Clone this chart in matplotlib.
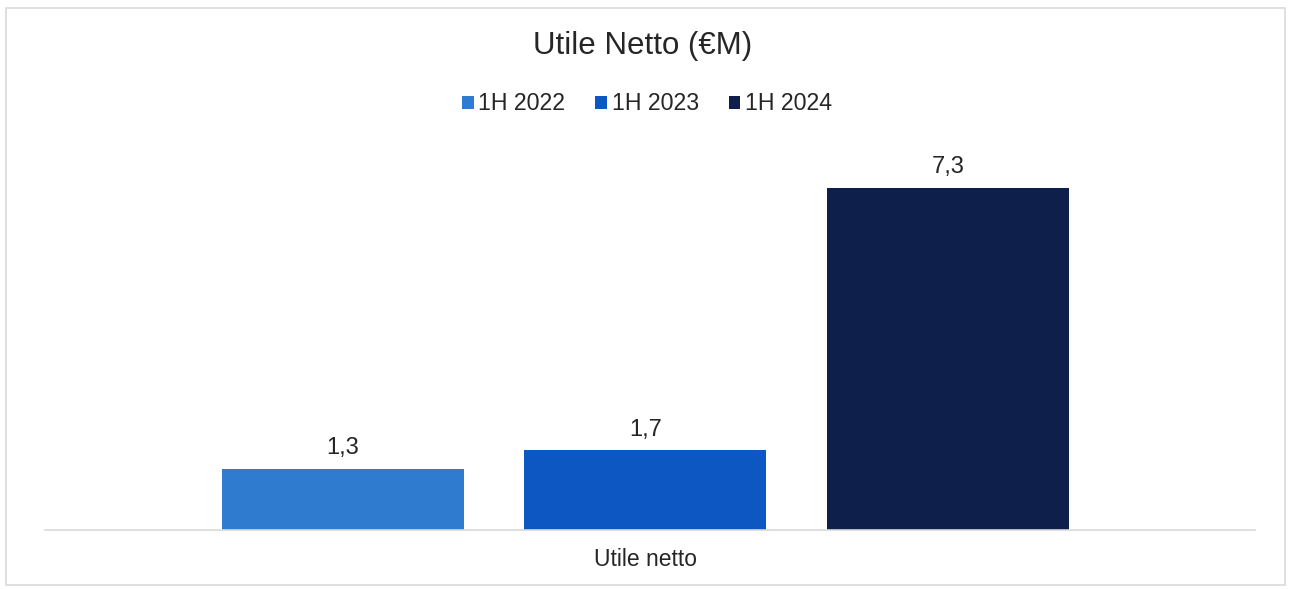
import matplotlib
matplotlib.use("Agg")
import matplotlib.pyplot as plt
from matplotlib.patches import Rectangle

plt.rcParams['font.family'] = ['Liberation Sans', 'DejaVu Sans']

# Data
series = ["1H 2022", "1H 2023", "1H 2024"]
values = [1.3, 1.7, 7.3]
value_labels = ["1,3", "1,7", "7,3"]
category = "Utile netto"
colors = ["#2f7bcf", "#0c57c2", "#0e1f4b"]

fig = plt.figure(figsize=(12.9, 5.89), dpi=100)
fig.patch.set_facecolor("white")

# Outer chart frame
fig.patches.append(Rectangle((6 / 1290, 4 / 589), 1279 / 1290, 577 / 589,
                             transform=fig.transFigure, fill=False,
                             edgecolor="#d9d9d9", linewidth=1.2))

ax = fig.add_axes([45 / 1290, 59 / 589, 1210 / 1290, 375 / 589])
positions = [-1, 0, 1]
bars = []
for pos, val, lab, col, name in zip(positions, values, value_labels, colors, series):
    b = ax.bar(pos, val, width=0.80, color=col, label=name, zorder=2)
    bars.append(b)
    ax.annotate(lab, (pos, val), xytext=(0, 7), textcoords="offset points",
                ha="center", va="bottom", fontsize=17, color="#262626")

ax.set_xlim(-1.985, 2.015)
ax.set_ylim(0, 8)
ax.set_yticks([])
ax.set_xticks([])
for s in ["top", "left", "right"]:
    ax.spines[s].set_visible(False)
ax.spines["bottom"].set_color("#d9d9d9")
ax.spines["bottom"].set_linewidth(1.2)

fig.text(645 / 1290, 1 - 559 / 589, category, ha="center", va="center",
         fontsize=16.5, color="#262626")
fig.text(643 / 1290, 1 - 46 / 589, "Utile Netto (€M)", ha="center", va="center",
         fontsize=22.5, color="#262626")

fig.legend(handles=[b[0] for b in bars], labels=series, loc="center",
           bbox_to_anchor=(647 / 1290, 1 - 104 / 589), ncol=3, frameon=False,
           fontsize=16.7, handlelength=0.5, handleheight=0.5, handletextpad=0.2,
           columnspacing=1.3, labelcolor="#262626")

fig.savefig("out.png", dpi=100, facecolor="white")
